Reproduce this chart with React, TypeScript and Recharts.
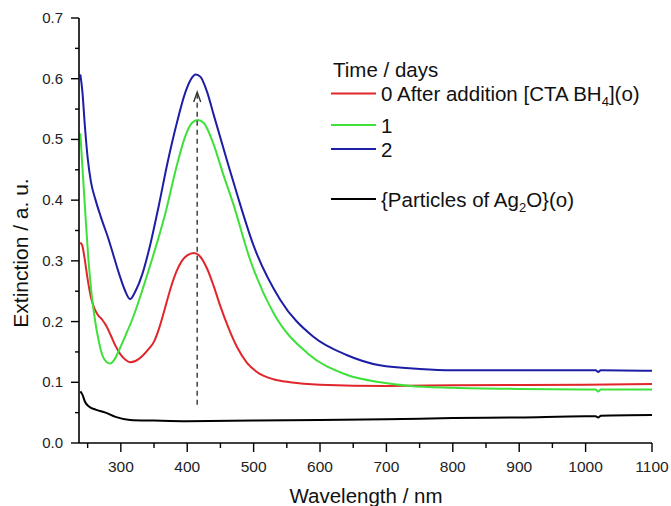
import React from 'react';
import { LineChart, Line, XAxis, YAxis, ReferenceLine, ReferenceDot } from 'recharts';

// wavelength (nm) / extinction (a.u.)
const redWl = [239, 242, 246, 250, 255, 260, 266, 272, 278, 285, 292, 300, 307, 314, 322, 332, 342, 350, 358, 366, 375, 384, 392, 400, 410, 418, 430, 440, 450, 462, 475, 490, 505, 530, 555, 600, 700, 800, 1000, 1100];
const redExt = [0.33, 0.325, 0.3, 0.27, 0.24, 0.222, 0.21, 0.203, 0.193, 0.177, 0.16, 0.145, 0.137, 0.133, 0.135, 0.143, 0.155, 0.167, 0.19, 0.22, 0.255, 0.283, 0.3, 0.309, 0.313, 0.309, 0.287, 0.258, 0.225, 0.19, 0.158, 0.132, 0.117, 0.105, 0.1, 0.096, 0.094, 0.095, 0.096, 0.097];

const greenWl = [239, 243, 247, 251, 256, 261, 266, 272, 278, 284, 290, 297, 307, 317, 342, 367, 385, 397, 407, 416, 425, 439, 455, 469, 495, 530, 581, 641, 691, 736, 800, 900, 1000, 1015, 1019, 1023, 1100];
const greenExt = [0.51, 0.44, 0.37, 0.305, 0.245, 0.203, 0.172, 0.145, 0.134, 0.131, 0.137, 0.152, 0.177, 0.203, 0.285, 0.378, 0.46, 0.505, 0.527, 0.532, 0.527, 0.494, 0.44, 0.395, 0.301, 0.214, 0.148, 0.112, 0.1, 0.094, 0.091, 0.089, 0.088, 0.088, 0.085, 0.088, 0.088];

const blueWl = [239, 242, 246, 250, 255, 262, 270, 282, 290, 297, 306, 314, 322, 332, 345, 357, 370, 385, 397, 405, 413, 420, 430, 440, 460, 475, 500, 540, 590, 640, 690, 750, 800, 900, 1000, 1015, 1019, 1023, 1100];
const blueExt = [0.607, 0.58, 0.52, 0.47, 0.43, 0.4, 0.372, 0.334, 0.305, 0.28, 0.252, 0.237, 0.25, 0.277, 0.33, 0.39, 0.46, 0.53, 0.577, 0.598, 0.607, 0.603, 0.578, 0.54, 0.465, 0.41, 0.325, 0.236, 0.175, 0.145, 0.128, 0.122, 0.12, 0.12, 0.12, 0.12, 0.117, 0.12, 0.119];

const blackWl = [239, 242, 246, 252, 262, 277, 292, 314, 350, 400, 500, 600, 700, 800, 900, 1000, 1015, 1019, 1023, 1100];
const blackExt = [0.085, 0.08, 0.068, 0.06, 0.055, 0.05, 0.043, 0.038, 0.037, 0.036, 0.037, 0.038, 0.039, 0.041, 0.042, 0.044, 0.044, 0.042, 0.045, 0.046];

const xTicks = [250, 300, 350, 400, 450, 500, 550, 600, 650, 700, 750, 800, 850, 900, 950, 1000, 1050, 1100];
const yTicks = [0, 0.05, 0.1, 0.15, 0.2, 0.25, 0.3, 0.35, 0.4, 0.45, 0.5, 0.55, 0.6, 0.65, 0.7];

const arrowX = 415;
const arrowFrom = 0.063;
const arrowTo = 0.578;

const RED = '#e0262a';
const GREEN = '#3ee03a';
const BLUE = '#1d1ea6';
const BLACK = '#000000';

const toPoints = (wl: number[], ext: number[]) => wl.map((x, i) => ({ x, v: ext[i] }));

const series = [
  { name: 'red', color: RED, data: toPoints(redWl, redExt) },
  { name: 'green', color: GREEN, data: toPoints(greenWl, greenExt) },
  { name: 'blue', color: BLUE, data: toPoints(blueWl, blueExt) },
  { name: 'black', color: BLACK, data: toPoints(blackWl, blackExt) },
];

const font = '"Liberation Sans", Arial, sans-serif';

const XTick = (props: any) => {
  const { x, y, payload } = props;
  const major = payload.value % 100 === 0;
  return (
    <g>
      <line x1={x} y1={y} x2={x} y2={y + (major ? 9 : 5)} stroke="#000" strokeWidth={1.4} />
      {major && (
        <text x={x} y={y + 29} textAnchor="middle" fontSize={15.5} fill="#222" fontFamily={font}>
          {payload.value}
        </text>
      )}
    </g>
  );
};

const YTick = (props: any) => {
  const { x, y, payload } = props;
  const major = Math.round(payload.value * 100) % 10 === 0;
  return (
    <g>
      <line x1={x} y1={y} x2={x - (major ? 8 : 4)} y2={y} stroke="#000" strokeWidth={1.4} />
      {major && (
        <text x={x - 16} y={y + 5} textAnchor="end" fontSize={15} fill="#222" fontFamily={font}>
          {payload.value.toFixed(1)}
        </text>
      )}
    </g>
  );
};

const ArrowHead = (props: any) => {
  const { cx, cy } = props;
  return (
    <path d={`M${cx - 3.5},${cy + 10} L${cx},${cy} L${cx + 3.5},${cy + 10}`} fill="none" stroke="#333" strokeWidth={1.4} />
  );
};

const App: React.FC = () => {
  return (
    <div style={{ position: 'fixed', left: 0, top: 0, width: 671, height: 506, background: '#fff' }}>
      <LineChart width={671} height={506} margin={{ top: 18, right: 19, bottom: 22, left: 29 }}>
        <XAxis
          dataKey="x"
          type="number"
          domain={[237, 1100]}
          ticks={xTicks}
          allowDataOverflow
          tick={<XTick />}
          tickLine={false}
          tickSize={0}
          tickMargin={0}
          height={41}
          stroke="#000"
          strokeWidth={1.6}
        />
        <XAxis xAxisId="top" orientation="top" type="number" domain={[237, 1100]} tick={false} tickLine={false} height={0} stroke="#000" strokeWidth={1.6} />
        <YAxis
          type="number"
          domain={[0, 0.7]}
          ticks={yTicks}
          allowDataOverflow
          tick={<YTick />}
          tickLine={false}
          tickSize={0}
          tickMargin={0}
          width={50}
          stroke="#000"
          strokeWidth={1.6}
        />
        <YAxis yAxisId="right" orientation="right" type="number" domain={[0, 0.7]} tick={false} tickLine={false} width={0} stroke="#000" strokeWidth={1.6} />
        {series.map((s) => (
          <Line
            key={s.name}
            data={s.data}
            dataKey="v"
            type="monotone"
            stroke={s.color}
            strokeWidth={2}
            dot={false}
            activeDot={false}
            isAnimationActive={false}
          />
        ))}
        <ReferenceLine
          segment={[{ x: arrowX, y: arrowFrom }, { x: arrowX, y: arrowTo }]}
          stroke="#333"
          strokeWidth={1.4}
          strokeDasharray="5 4"
        />
        <ReferenceDot x={arrowX} y={arrowTo} r={0} shape={<ArrowHead />} />
      </LineChart>

      {/* axis titles and legend */}
      <svg width={671} height={506} style={{ position: 'absolute', left: 0, top: 0, pointerEvents: 'none' }} fontFamily={font}>
        <text x={366} y={503} textAnchor="middle" fontSize={20.5} fill="#111">Wavelength / nm</text>
        <text x={28} y={253} textAnchor="middle" fontSize={21} fill="#111" transform="rotate(-90 28 253)">Extinction / a. u.</text>

        <text x={333} y={77} fontSize={20.5} fill="#111">Time / days</text>
        <line x1={331} x2={376} y1={93.5} y2={93.5} stroke={RED} strokeWidth={2} />
        <text x={381} y={101} fontSize={20.5} fill="#111">
          0 After addition [CTA BH<tspan fontSize={13} dy={5}>4</tspan><tspan dy={-5}>](o)</tspan>
        </text>
        <line x1={331} x2={376} y1={125} y2={125} stroke={GREEN} strokeWidth={2} />
        <text x={381} y={132.5} fontSize={20.5} fill="#111">1</text>
        <line x1={331} x2={376} y1={149} y2={149} stroke={BLUE} strokeWidth={2} />
        <text x={381} y={156.5} fontSize={20.5} fill="#111">2</text>
        <line x1={331} x2={376} y1={199} y2={199} stroke={BLACK} strokeWidth={2} />
        <text x={381} y={206.5} fontSize={20.5} fill="#111">
          {'{'}Particles of Ag<tspan fontSize={13} dy={5}>2</tspan><tspan dy={-5}>O{'}'}(o)</tspan>
        </text>
      </svg>
    </div>
  );
};

export default App;
